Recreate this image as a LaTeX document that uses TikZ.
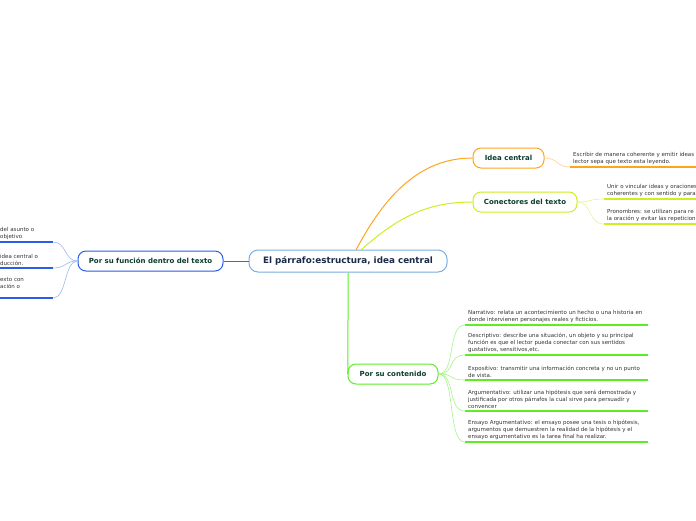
\documentclass[tikz,border=0pt]{standalone}
\usepackage{fontspec}
\setmainfont{DejaVu Sans}
\usetikzlibrary{positioning}
\definecolor{hubline}{HTML}{7AAEE0}
\definecolor{hubtext}{HTML}{1C2A4A}
\definecolor{labelgreen}{HTML}{0B3D2F}
\definecolor{leafgray}{HTML}{333333}
\definecolor{funcblue}{HTML}{2A5EE8}
\definecolor{functwig}{HTML}{9AB8F0}
\definecolor{ideaorange}{HTML}{FFA420}
\definecolor{ideatwig}{HTML}{FFD08A}
\definecolor{conyellow}{HTML}{CCEE22}
\definecolor{contwig}{HTML}{E2F68A}
\definecolor{contgreen}{HTML}{5CEE22}
\definecolor{conttwig}{HTML}{A8F28A}
\tikzstyle{hub} = [rectangle, rounded corners=9pt, draw=hubline, line width=1pt, fill=white, minimum height=22pt, text centered, text=hubtext, font=\bfseries\fontsize{8.8}{10}\selectfont]
\tikzstyle{topic} = [rectangle, rounded corners=8pt, line width=1pt, fill=white, minimum height=20pt, text centered, text=labelgreen, font=\bfseries\fontsize{7}{8}\selectfont]
\tikzstyle{leaf} = [anchor=south west, inner xsep=3pt, inner ysep=2.5pt, align=left, text=leafgray, font=\fontsize{5.5}{7}\selectfont]
\tikzstyle{branch} = [line width=1pt]
\tikzstyle{twig} = [line width=0.6pt]
\tikzstyle{under} = [line width=2pt]

\begin{document}
\begin{tikzpicture}[x=1pt, y=-1pt]
\useasboundingbox (0,0) rectangle (696,520);
\clip (0,0) rectangle (696,520);

% Central topic
\node (hub) [hub, minimum width=198pt] at (348,261) {El párrafo:estructura, idea central};

% Main topics
\node (funcion) [topic, draw=funcblue, minimum width=145pt] at (150.5,261) {Por su función dentro del texto};
\node (idea) [topic, draw=ideaorange, minimum width=71pt] at (508.5,158) {Idea central};
\node (conect) [topic, draw=conyellow, minimum width=104pt] at (525,202) {Conectores del texto};
\node (contenido) [topic, draw=contgreen, minimum width=90pt] at (393,374) {Por su contenido};

% Branches
\draw [branch, color=funcblue!70!gray] (hub.west) -- (funcion.east);
\draw [branch, color=ideaorange] (356,250) .. controls (385,195) and (420,158) .. (idea.west);
\draw [branch, color=conyellow] (361,250) .. controls (400,215) and (430,202) .. (conect.west);
\draw [branch, color=contgreen] (hub.south) .. controls (348,366) and (348,374) .. (contenido.west);

% Por su funcion: leaves
\node (fun1) [leaf] at (-3,242) {del asunto o\\objetivo};
\node (fun2) [leaf] at (-3,268) {idea central o\\ducción.};
\node (fun3) [leaf] at (-3,298) {exto con\\ación o\\\mbox{}};
\foreach \l in {fun1,fun2,fun3} {
  \draw [under, color=funcblue] (\l.south west) -- ++(56,0) coordinate (\l end);
  \draw [twig, color=functwig] (funcion.west) .. controls (64,261) and (67,0|-\l end) .. (\l end);
}

% Idea central: leaf
\node (idea1) [leaf] at (570,167) {Escribir de manera coherente y emitir ideas\\lector sepa que texto esta leyendo.};
\draw [under, color=ideaorange] (idea1.south west) -- ++(140,0);
\draw [twig, color=ideatwig] (idea.east) .. controls (558,158) and (556,167) .. (idea1.south west);

% Conectores: leaves
\node (con1) [leaf] at (604,199) {Unir o vincular ideas y oraciones\\coherentes y con sentido y para};
\node (con2) [leaf] at (604,224) {Pronombres: se utilizan para re\\la oración y evitar las repeticion};
\foreach \l in {con1,con2} {
  \draw [under, color=conyellow] (\l.south west) -- ++(100,0);
  \draw [twig, color=contwig] (conect.east) .. controls (592,202) and (588,0|-\l.south west) .. (\l.south west);
}

% Por su contenido: leaves
\node (tipo1) [leaf] at (465,325) {Narrativo: relata un acontecimiento un hecho o una historia en\\donde intervienen personajes reales y ficticios.};
\node (tipo2) [leaf] at (465,355) {Descriptivo: describe una situación, un objeto y su principal\\función es que el lector pueda conectar con sus sentidos\\gustativos, sensitivos,etc.};
\node (tipo3) [leaf] at (465,380) {Expositivo: transmitir una información concreta y no un punto\\de vista.};
\node (tipo4) [leaf] at (465,411) {Argumentativo: utilizar una hipótesis que será demostrada y\\justificada por otros párrafos la cual sirve para persuadir y\\convencer};
\node (tipo5) [leaf] at (465,442) {Ensayo Argumentativo: el ensayo posee una tesis o hipótesis,\\argumentos que demuestren la realidad de la hipótesis y el\\ensayo argumentativo es la tarea final ha realizar.};
\foreach \l in {tipo1,tipo2,tipo3,tipo4,tipo5} {
  \draw [under, color=contgreen] (\l.south west) -- ++(183,0);
  \draw [twig, color=conttwig] (contenido.east) .. controls (456,374) and (447,0|-\l.south west) .. (\l.south west);
}

\end{tikzpicture}
\end{document}
